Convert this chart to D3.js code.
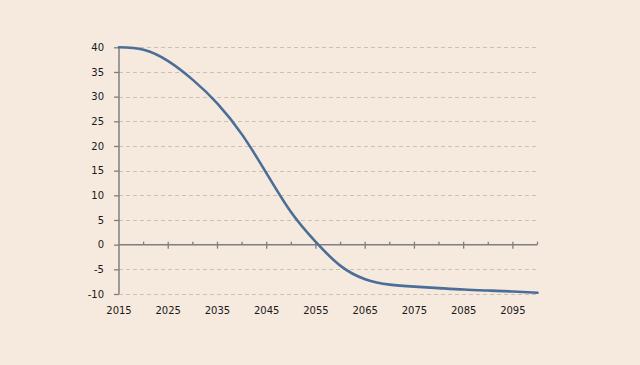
<!DOCTYPE html>
<html><head><meta charset="utf-8">
<script src="https://cdn.jsdelivr.net/npm/d3@7/dist/d3.min.js"></script>
<style>
html,body{margin:0;padding:0;background:#f6e9de;}
svg{display:block;}
text{font-family:"DejaVu Sans",Verdana,sans-serif;font-size:10px;fill:#1a1a1a;}
</style></head>
<body>
<svg id="c" width="640" height="365"></svg>
<script>
const years = [2015,2020,2025,2030,2035,2040,2045,2050,2055,2060,2065,2070,2075,2080,2085,2090,2095,2100];
const values = [40.0,39.5,37.2,33.4,28.6,22.3,14.4,6.5,0.5,-4.3,-7.0,-8.1,-8.5,-8.8,-9.1,-9.3,-9.5,-9.75];
const yTicks = [-10,-5,0,5,10,15,20,25,30,35,40];
const xLabels = [2015,2025,2035,2045,2055,2065,2075,2085,2095];
const xMinor = [2020,2030,2040,2050,2060,2070,2080,2090,2100];

const svg = d3.select("#c");
const x = d3.scaleLinear().domain([2015,2100]).range([119,537.5]);
const y = d3.scaleLinear().domain([-10,40]).range([294,47.3]);

// gridlines
svg.append("g").selectAll("line").data(yTicks.filter(d=>d!==0)).join("line")
  .attr("x1",x(2015)).attr("x2",x(2100))
  .attr("y1",d=>Math.round(y(d))+0.5).attr("y2",d=>Math.round(y(d))+0.5)
  .attr("stroke","#cdbfb5").attr("stroke-width",1).attr("stroke-dasharray","4,3");

// y axis
const yAxis = svg.append("g").attr("transform","translate(119,0)")
  .call(d3.axisLeft(y).tickValues(yTicks).tickSize(5).tickPadding(10).tickFormat(d=>String(d)));
yAxis.select(".domain").attr("stroke","#7f7f7f").attr("stroke-width",1.5).attr("d",`M0,${y(-10)}V${y(40)}`);
yAxis.selectAll(".tick line").attr("stroke","#7f7f7f").attr("stroke-width",1.3);
yAxis.selectAll(".tick text").style("font-size","10px").style("fill","#1a1a1a").style("font-family","'DejaVu Sans',Verdana,sans-serif");

// x axis at zero
const zeroY = y(0);
svg.append("line").attr("x1",x(2015)).attr("x2",x(2100)).attr("y1",zeroY).attr("y2",zeroY)
  .attr("stroke","#7f7f7f").attr("stroke-width",1.5);
svg.append("g").selectAll("line").data(xLabels.filter(d=>d!==2015)).join("line")
  .attr("x1",d=>x(d)).attr("x2",d=>x(d)).attr("y1",zeroY-3).attr("y2",zeroY+4)
  .attr("stroke","#7f7f7f").attr("stroke-width",1.3);
svg.append("g").selectAll("line").data(xMinor).join("line")
  .attr("x1",d=>x(d)).attr("x2",d=>x(d)).attr("y1",zeroY-3).attr("y2",zeroY)
  .attr("stroke","#7f7f7f").attr("stroke-width",1.3);

// x labels at bottom
svg.append("g").selectAll("text").data(xLabels).join("text")
  .attr("x",d=>x(d)).attr("y",314).attr("text-anchor","middle").text(d=>d);

// line
const data = years.map((d,i)=>({yr:d,v:values[i]}));
svg.append("path").datum(data)
  .attr("fill","none").attr("stroke","#4a6e97").attr("stroke-width",2.6)
  .attr("stroke-linecap","round")
  .attr("d",d3.line().x(d=>x(d.yr)).y(d=>y(d.v)).curve(d3.curveNatural));
</script>
</body></html>
